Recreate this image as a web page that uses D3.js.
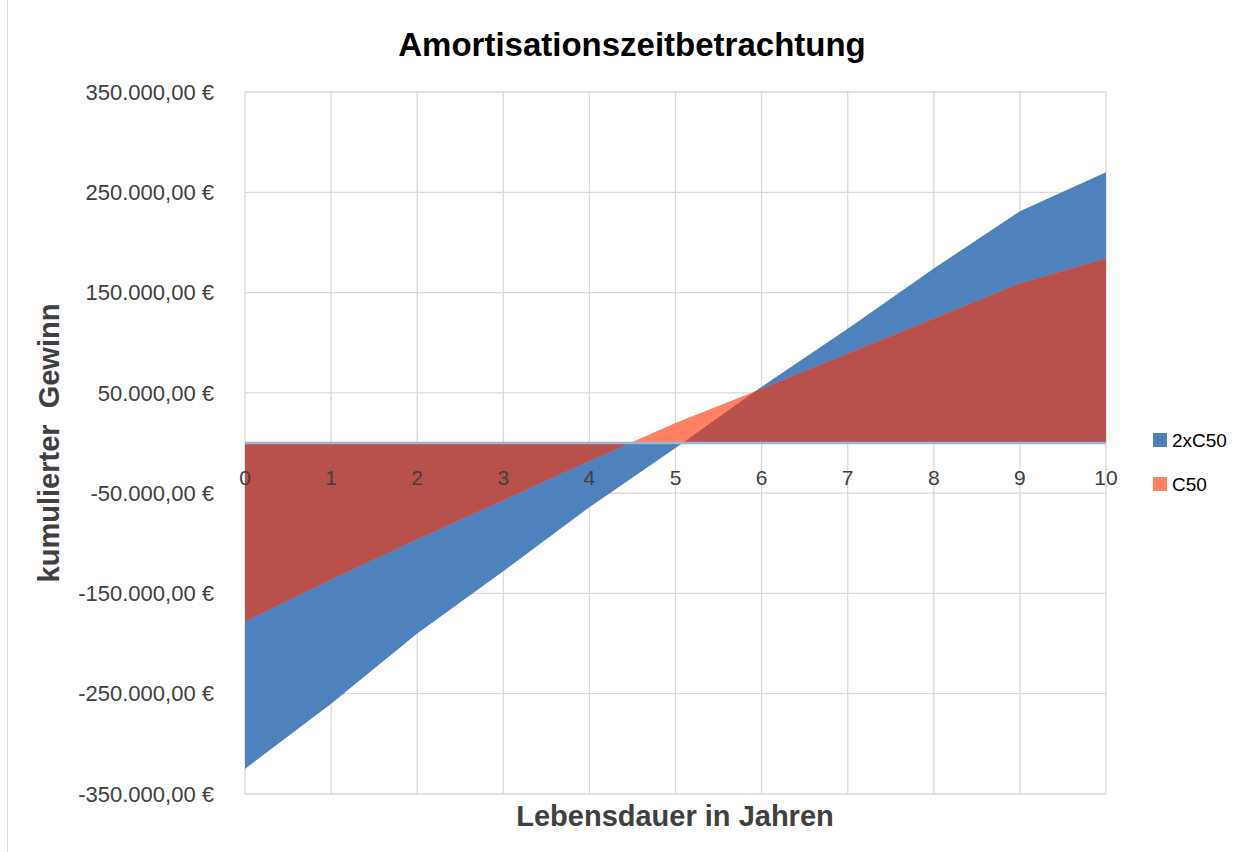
<!DOCTYPE html>
<html><head><meta charset="utf-8">
<script src="https://cdn.jsdelivr.net/npm/d3@7"></script>
<style>body{margin:0;background:#fff}svg{display:block}</style>
</head><body>
<script>
const years = [0,1,2,3,4,5,6,7,8,9,10];
const seriesNames = ["2xC50", "C50"];
const values2xC50 = [-325000,-260000,-190000,-128000,-64000,-5000,56000,114000,174000,231000,270000];
const valuesC50 = [-178000,-136000,-96000,-57000,-18000,20000,54000,89000,124000,159000,184000];
const yTicks = [350000,250000,150000,50000,-50000,-150000,-250000,-350000];
const title = "Amortisationszeitbetrachtung";
const xTitle = "Lebensdauer in Jahren";
const yTitle = "kumulierter  Gewinn";

const W = 1258, H = 852;
const m = {left:245, right:W-1106, top:92, bottom:H-794};
const svg = d3.select("body").append("svg").attr("width",W).attr("height",H);
const font = "Liberation Sans, Arial, sans-serif";

svg.append("rect").attr("x",7.5).attr("y",-5).attr("width",1300).attr("height",H+10)
  .attr("fill","none").attr("stroke","#d9d9d9");

const x = d3.scaleLinear().domain([0,10]).range([m.left, W-m.right]);
const y = d3.scaleLinear().domain([-350000,350000]).range([H-m.bottom, m.top]);

// gridlines
const g = svg.append("g");
g.selectAll("line.v").data(years).join("line")
  .attr("x1",d=>x(d)).attr("x2",d=>x(d)).attr("y1",y(350000)).attr("y2",y(-350000))
  .attr("stroke","#d9d9d9").attr("stroke-width",1.3);
g.selectAll("line.h").data(yTicks).join("line")
  .attr("x1",x(0)).attr("x2",x(10)).attr("y1",d=>y(d)).attr("y2",d=>y(d))
  .attr("stroke","#d9d9d9").attr("stroke-width",1.3);

const area2 = d3.area().x((d,i)=>x(years[i])).y0(y(0)).y1(d=>y(d));
const colors = {blue:"#4f81bd", salmon:"#ff8062", overlap:"#b8514b"};

svg.append("path").attr("d", area2(values2xC50)).attr("fill", colors.blue);
svg.append("path").attr("d", area2(valuesC50)).attr("fill", colors.salmon);
svg.append("clipPath").attr("id","clipBlue").append("path").attr("d", area2(values2xC50));
svg.append("path").attr("d", area2(valuesC50)).attr("fill", colors.overlap).attr("clip-path","url(#clipBlue)");

// zero axis line
svg.append("line").attr("x1",x(0)).attr("x2",x(10)).attr("y1",y(0)).attr("y2",y(0))
  .attr("stroke","#9fb4cf").attr("stroke-width",2.5);

// y tick labels
const fmt = v => {
  const s = d3.format(",.2f")(Math.abs(v)).replace(/,/g,"X").replace(".",",").replace(/X/g,".");
  return (v<0?"-":"") + s + " €";
};
svg.selectAll("text.yt").data(yTicks).join("text")
  .attr("x",214).attr("y",d=>y(d)).attr("dy","0.35em").attr("text-anchor","end")
  .attr("font-family",font).attr("font-size",22).attr("fill","#404040").text(fmt);

// x tick labels
svg.selectAll("text.xt").data(years).join("text")
  .attr("x",d=>x(d)).attr("y",485).attr("text-anchor","middle")
  .attr("font-family",font).attr("font-size",21).attr("fill","#404040").text(d=>d);

// titles
svg.append("text").attr("x",632).attr("y",56).attr("text-anchor","middle")
  .attr("font-family",font).attr("font-weight","bold").attr("font-size",33).text(title);
svg.append("text").attr("x",675).attr("y",826).attr("text-anchor","middle")
  .attr("font-family",font).attr("font-weight","bold").attr("font-size",29).attr("fill","#404040").text(xTitle);
svg.append("text").attr("transform","translate(59,443) rotate(-90)").attr("text-anchor","middle")
  .attr("font-family",font).attr("font-weight","bold").attr("font-size",29).attr("fill","#404040")
  .attr("xml:space","preserve").style("white-space","pre").text(yTitle);

// legend
const leg = svg.append("g");
const legColors = [colors.blue, colors.salmon];
seriesNames.forEach((n,i)=>{
  const yy = 440 + i*44;
  leg.append("rect").attr("x",1153).attr("y",yy-7).attr("width",14).attr("height",14).attr("fill",legColors[i]);
  leg.append("text").attr("x",1172).attr("y",yy).attr("dy","0.35em")
    .attr("font-family",font).attr("font-size",19).attr("fill","#000").text(n);
});
</script>
</body></html>
